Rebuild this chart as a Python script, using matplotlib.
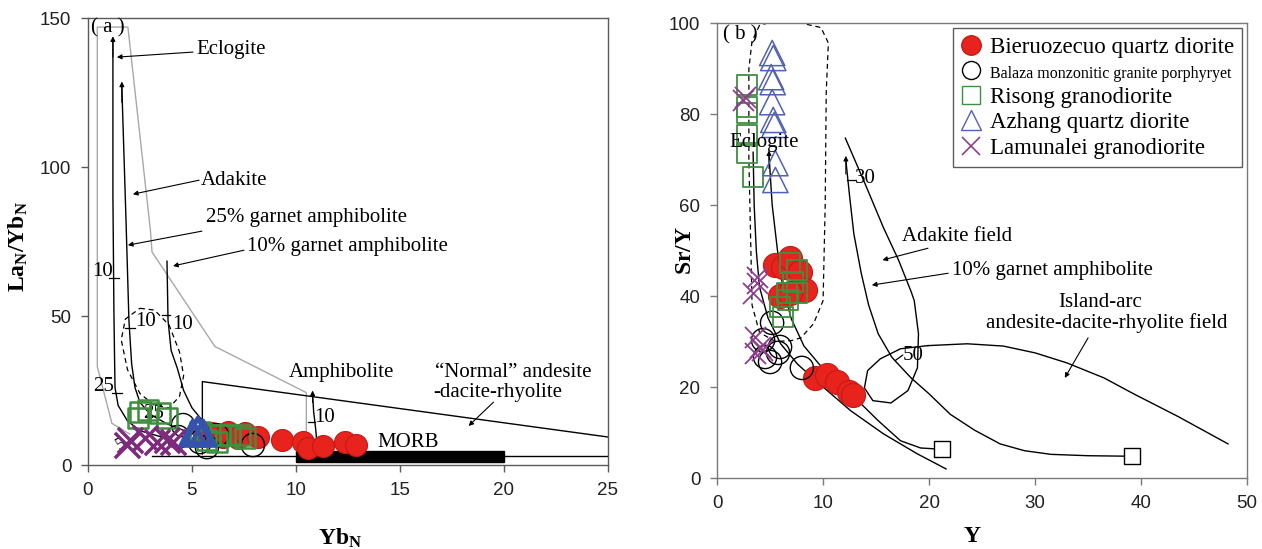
import matplotlib
matplotlib.use('Agg')
import matplotlib.pyplot as plt
from matplotlib.lines import Line2D

plt.rcParams['font.family'] = 'Liberation Serif'
plt.rcParams['mathtext.fontset'] = 'custom'
plt.rcParams['mathtext.rm'] = 'Liberation Serif'
plt.rcParams['mathtext.bf'] = 'Liberation Serif:bold'

# ===== panel (a) : YbN vs LaN/YbN =====
a_red_x = [5.6, 5.95, 6.5, 6.73, 7.2, 7.55, 8.17, 9.33, 10.34, 10.58, 11.3, 12.36, 12.88]
a_red_y = [10.0, 10.7, 9.5, 11.1, 9.2, 10.7, 9.4, 8.4, 7.7, 5.7, 6.4, 7.7, 6.7]
a_blk_x = [4.57, 4.33, 5.38, 5.72, 6.2, 7.93]
a_blk_y = [13.4, 9.4, 7.7, 6.0, 10.0, 6.7]
a_grn_x = [2.5, 2.88, 3.46, 3.8, 2.4, 5.38, 5.87, 6.35, 6.83, 7.3, 7.55, 5.7, 6.2]
a_grn_y = [17.8, 18.5, 17.4, 15.8, 15.8, 11.1, 10.0, 10.0, 10.0, 10.0, 9.1, 8.4, 7.7]
a_blu_x = [5.05, 5.29, 5.53]
a_blu_y = [10.7, 11.7, 10.7]
a_pur_x = [1.87, 2.0, 2.74, 3.3, 3.8, 4.1]
a_pur_y = [6.7, 8.4, 9.1, 7.7, 8.4, 7.7]

# eclogite field outline (grey)
a_ecl_field_x = [2.0, 1.15, 0.45, 0.45, 1.92, 3.0, 3.08, 6.1, 10.5, 10.5]
a_ecl_field_y = [10.4, 14.0, 33.0, 147.0, 147.0, 79.0, 71.5, 39.8, 24.3, 4.7]
# melting curves
a_curve1_x = [1.2, 1.2, 1.25, 1.3, 1.45, 1.9, 2.5, 3.5]
a_curve1_y = [141.9, 90.0, 50.0, 26.0, 20.0, 14.8, 11.5, 9.5]
a_curve2_x = [1.63, 1.83, 1.97, 2.1, 2.26, 2.5, 3.0, 3.8, 5.05]
a_curve2_y = [126.7, 82.0, 48.5, 34.0, 26.0, 21.0, 17.0, 13.8, 10.4]
a_curve3_x = [3.8, 3.85, 4.0, 4.3, 4.6, 5.0, 5.4, 5.7]
a_curve3_y = [68.4, 48.5, 38.4, 32.4, 25.0, 19.2, 15.8, 13.8]
a_amph_x = [10.8, 10.85, 10.95, 11.0]
a_amph_y = [24.0, 18.0, 12.0, 8.0]
a_ellipse_x = [2.5, 3.2, 3.9, 4.4, 4.6, 4.4, 3.9, 3.2, 2.5, 1.9, 1.6, 1.8, 2.5]
a_ellipse_y = [52.6, 52.0, 47.0, 38.0, 30.0, 23.0, 19.2, 20.0, 24.0, 32.0, 42.0, 49.0, 52.6]
a_normal_x = [5.5, 5.5, 25.0]
a_normal_y = [3.7, 28.0, 9.4]
a_base_x = [3.1, 25.0]
a_base_y = [3.0, 3.0]
a_morb = (10.0, 20.0, 1.0, 4.7)  # x0, x1, y0, y1

# ===== panel (b) : Y vs Sr/Y =====
b_red_x = [5.47, 6.2, 6.89, 7.83, 8.3, 5.94, 6.9, 9.25, 10.4, 11.3, 12.4, 12.8]
b_red_y = [46.8, 46.4, 48.4, 45.3, 41.3, 40.0, 40.7, 22.0, 22.6, 21.1, 18.9, 18.2]
b_blk_x = [5.19, 4.34, 5.94, 5.0, 4.53, 8.0, 5.75]
b_blk_y = [34.1, 30.3, 28.8, 25.5, 26.6, 24.2, 27.5]
b_grn_x = [2.83, 2.83, 2.83, 2.83, 2.83, 3.4, 6.89, 7.55, 7.17, 6.6, 7.55, 5.94, 6.23, 6.7]
b_grn_y = [86.4, 81.5, 80.2, 75.4, 71.4, 66.2, 47.3, 45.7, 43.1, 40.7, 40.7, 37.6, 35.4, 39.1]
b_blu_x = [5.2, 5.3, 5.1, 5.25, 5.2, 5.3, 5.4, 5.5, 5.5]
b_blu_y = [93.4, 92.3, 88.1, 87.0, 82.6, 78.7, 77.6, 69.2, 65.5]
b_pur_x = [2.45, 2.64, 3.77, 3.77, 3.4, 3.58, 4.06, 3.58, 4.25]
b_pur_y = [83.1, 83.7, 42.9, 44.2, 40.7, 31.0, 28.8, 27.5, 28.1]

b_ecl_x = [4.0, 3.3, 3.0, 3.0, 3.2, 3.3, 4.0, 5.5, 7.0, 7.9, 9.1, 10.0, 10.2, 10.3, 10.5, 9.8, 7.9, 4.8, 4.0]
b_ecl_y = [99.5, 96.0, 90.0, 70.0, 49.0, 38.0, 32.0, 30.0, 30.2, 30.8, 33.9, 39.0, 60.0, 85.0, 95.6, 99.0, 100.0, 100.0, 99.5]
b_curveA_x = [3.4, 3.5, 3.7, 4.0, 4.8, 6.0, 7.6, 10.1, 12.6, 15.7, 18.9, 21.6]
b_curveA_y = [71.6, 60.0, 50.0, 42.0, 35.2, 29.5, 25.0, 19.8, 14.8, 9.7, 5.3, 2.0]
b_curveB_x = [4.9, 5.2, 5.7, 6.2, 7.0, 8.2, 10.0, 12.0, 13.5, 15.2, 17.3, 19.2, 20.6]
b_curveB_y = [71.0, 60.0, 50.0, 42.0, 35.0, 29.0, 24.0, 20.0, 16.5, 12.6, 8.2, 6.6, 6.4]
b_curveC_x = [12.15, 12.5, 12.9, 13.6, 14.3, 15.2, 16.5, 18.3, 20.0, 22.0, 24.3, 26.7, 29.0, 31.5, 35.0, 38.5]
b_curveC_y = [69.8, 62.0, 53.7, 45.0, 38.0, 31.7, 26.5, 22.0, 18.5, 14.0, 10.5, 7.5, 6.0, 5.2, 4.9, 4.8]
b_adakite_x = [12.1, 13.9, 15.7, 17.1, 18.3, 18.6, 19.0, 18.9, 18.0, 16.4, 14.7, 13.9, 14.2, 15.4, 17.3, 19.9]
b_adakite_y = [74.7, 65.0, 55.0, 48.0, 41.0, 39.0, 31.7, 24.2, 19.2, 16.5, 17.0, 19.8, 23.6, 26.2, 28.4, 29.1]
b_arc_x = [19.9, 23.6, 27.0, 30.0, 33.0, 36.5, 39.3, 43.5, 48.2]
b_arc_y = [29.1, 29.5, 29.0, 27.5, 25.3, 22.0, 18.5, 13.5, 7.5]
b_end_x = [21.2, 39.1]
b_end_y = [6.4, 4.8]

RED, REDE = '#e8231d', '#c41a14'
GRN = '#3f8f3f'
BLU = '#5161b3'
PUR = '#8e3f8e'

fig = plt.figure(figsize=(12.62, 5.49), dpi=100)
ax1 = fig.add_axes([0.0697, 0.153, 0.412, 0.814])
ax2 = fig.add_axes([0.5682, 0.1293, 0.420, 0.8288])


def style(ax, col):
    for s in ax.spines.values():
        s.set_color(col)
        s.set_linewidth(1.0)
    ax.tick_params(direction='out', length=5, width=1, color=col, labelsize=13.5, pad=7)
    for t in ax.get_xticklabels() + ax.get_yticklabels():
        t.set_fontfamily('Liberation Sans')
        t.set_color('#222222')


def arrow(ax, tip, tail):
    ax.annotate('', xy=tip, xytext=tail,
                arrowprops=dict(arrowstyle='-|>', lw=0.8, color='k', mutation_scale=7, shrinkA=0, shrinkB=0))


# ---------- panel (a) ----------
ax = ax1
ax.plot(a_ecl_field_x, a_ecl_field_y, color='#a8a8a8', lw=1.0, zorder=1)
ax.plot(a_curve1_x, a_curve1_y, color='k', lw=1.0, zorder=2)
ax.plot(a_curve2_x, a_curve2_y, color='k', lw=1.0, zorder=2)
ax.plot(a_curve3_x, a_curve3_y, color='k', lw=1.0, zorder=2)
ax.plot(a_amph_x, a_amph_y, color='k', lw=1.0, zorder=2)
ax.plot(a_ellipse_x, a_ellipse_y, color='k', lw=0.9, ls=(0, (4, 3)), zorder=2)
ax.plot(a_normal_x, a_normal_y, color='k', lw=1.0, zorder=2)
ax.plot(a_base_x, a_base_y, color='k', lw=1.0, zorder=2)
x0, x1, y0, y1 = a_morb
ax.fill([x0, x1, x1, x0], [y0, y0, y1, y1], color='k', zorder=2)
arrow(ax, (a_curve1_x[0], a_curve1_y[0] + 2), (a_curve1_x[0], a_curve1_y[0] - 5))
arrow(ax, (a_curve2_x[0], a_curve2_y[0] + 2), (a_curve2_x[0], a_curve2_y[0] - 5))
arrow(ax, (a_amph_x[0], a_amph_y[0] + 1), (a_amph_x[0], a_amph_y[0] - 3))

ax.scatter(a_red_x, a_red_y, s=250, c=RED, edgecolors=REDE, linewidths=0.8, zorder=5)
ax.scatter(a_blk_x, a_blk_y, s=280, facecolors='none', edgecolors='k', linewidths=1.0, zorder=6)
ax.scatter(a_grn_x, a_grn_y, s=200, marker='s', facecolors='none', edgecolors=GRN, linewidths=1.8, zorder=7)
ax.scatter(a_blu_x, a_blu_y, s=330, marker='^', facecolors='none', edgecolors='#3552ad', linewidths=3.0, zorder=8)
ax.scatter(a_pur_x, a_pur_y, s=330, marker='x', c='#7d2c7d', linewidths=2.5, zorder=9)

fs = 15
ax.text(0.96, 146.6, '( a )', fontsize=fs, ha='center', va='center')
ax.text(5.19, 139.3, 'Eclogite', fontsize=fs, va='center')
arrow(ax, (1.39, 136.9), (5.05, 138.6))
ax.text(5.43, 95.6, 'Adakite', fontsize=fs, va='center')
arrow(ax, (2.16, 90.9), (5.34, 95.6))
ax.text(5.67, 83.2, '25% garnet amphibolite', fontsize=fs, va='center')
arrow(ax, (1.92, 73.8), (5.48, 78.5))
ax.text(7.64, 73.2, '10% garnet amphibolite', fontsize=fs, va='center')
arrow(ax, (4.09, 66.8), (7.5, 72.1))
ax.text(12.2, 30.9, 'Amphibolite', fontsize=fs, ha='center', va='center')
ax.text(16.7, 31.2, '\u201cNormal\u201d andesite', fontsize=fs, va='center')
ax.text(16.6, 24.5, '-dacite-rhyolite', fontsize=fs, va='center')
arrow(ax, (18.3, 13.1), (19.5, 21.1))
ax.text(13.9, 7.6, 'MORB', fontsize=fs, va='center')

# small ticks with labels on the melting curves
for (tx0, tx1, ty), (lx, ly, lab, ha) in [
        ((1.0, 1.5, 62.8), (1.2, 64.8, '10', 'right')),
        ((1.15, 1.65, 24.2), (1.25, 26.5, '25', 'right')),
        ((1.78, 2.26, 46.0), (2.26, 48.0, '10', 'left')),
        ((3.56, 3.94, 50.3), (4.04, 47.3, '10', 'left')),
        ((2.16, 2.64, 19.1), (2.64, 17.4, '25', 'left')),
        ((10.58, 10.9, 14.4), (10.9, 15.8, '10', 'left'))]:
    ax.plot([tx0, tx1], [ty, ty], color='k', lw=0.9, zorder=3)
    ax.text(lx, ly, lab, fontsize=fs, ha=ha, va='center', zorder=3)
ax.text(1.63, 6.7, '5', fontsize=13, ha='center', va='center', rotation=30)

ax.set_xlim(0, 25)
ax.set_ylim(0, 150)
ax.set_xticks([0, 5, 10, 15, 20, 25])
ax.set_yticks([0, 50, 100, 150])
style(ax, '#5a5a5a')
ax.set_xlabel(r'$\mathbf{Yb_N}$', fontsize=17)
ax.xaxis.set_label_coords(0.485, -0.138)
ax.set_ylabel(r'$\mathbf{La_N/Yb_N}$', fontsize=17)
ax.yaxis.set_label_coords(-0.112, 0.49)

# ---------- panel (b) ----------
ax = ax2
ax.plot(b_ecl_x, b_ecl_y, color='k', lw=0.9, ls=(0, (4, 3)), zorder=2)
for cx, cy in [(b_curveA_x, b_curveA_y), (b_curveB_x, b_curveB_y), (b_curveC_x, b_curveC_y),
               (b_adakite_x, b_adakite_y), (b_arc_x, b_arc_y)]:
    ax.plot(cx, cy, color='k', lw=1.0, zorder=2)
ax.plot([b_curveB_x[-1], b_end_x[0]], [b_curveB_y[-1], b_end_y[0]], color='k', lw=1.0, zorder=2)
ax.plot([b_curveC_x[-1], b_end_x[1]], [b_curveC_y[-1], b_end_y[1]], color='k', lw=1.0, zorder=2)
ax.scatter(b_end_x, b_end_y, s=130, marker='s', facecolors='white', edgecolors='k', linewidths=1.0, zorder=3)
arrow(ax, (b_curveB_x[0], b_curveB_y[0] + 1), (b_curveB_x[0], b_curveB_y[0] - 3))
arrow(ax, (b_curveC_x[0], b_curveC_y[0] + 1), (b_curveC_x[0], b_curveC_y[0] - 3))

ax.scatter(b_red_x, b_red_y, s=300, c=RED, edgecolors=REDE, linewidths=0.8, zorder=5)
ax.scatter(b_blk_x, b_blk_y, s=280, facecolors='none', edgecolors='k', linewidths=1.0, zorder=6)
ax.scatter(b_grn_x, b_grn_y, s=210, marker='s', facecolors='none', edgecolors=GRN, linewidths=1.3, zorder=7)
ax.scatter(b_blu_x, b_blu_y, s=330, marker='^', facecolors='none', edgecolors=BLU, linewidths=1.1, zorder=8)
ax.scatter(b_pur_x, b_pur_y, s=230, marker='x', c=PUR, linewidths=1.3, zorder=9)

ax.text(2.17, 97.4, '( b )', fontsize=fs, ha='center', va='center')
ax.text(4.43, 73.8, 'Eclogite', fontsize=fs, ha='center', va='center', zorder=10)
ax.plot([12.26, 13.0], [65.5, 65.5], color='k', lw=0.9)
ax.text(13.0, 65.9, '30', fontsize=fs, va='center')
ax.plot([16.8, 17.5], [25.8, 27.0], color='k', lw=0.9)
ax.text(17.5, 27.0, '50', fontsize=fs, va='center')
ax.text(17.45, 53.0, 'Adakite field', fontsize=fs, va='center')
arrow(ax, (15.6, 47.9), (19.9, 50.5))
ax.text(22.2, 45.7, '10% garnet amphibolite', fontsize=fs, va='center')
arrow(ax, (14.6, 42.4), (21.8, 45.0))
ax.text(36.1, 38.5, 'Island-arc', fontsize=fs, ha='center', va='center')
ax.text(36.8, 34.0, 'andesite-dacite-rhyolite field', fontsize=fs, ha='center', va='center')
arrow(ax, (32.8, 22.0), (35.0, 30.8))

handles = [
    Line2D([], [], ls='none', marker='o', ms=14, mfc=RED, mec=REDE),
    Line2D([], [], ls='none', marker='o', ms=13, mfc='none', mec='k'),
    Line2D([], [], ls='none', marker='s', ms=13, mfc='none', mec=GRN),
    Line2D([], [], ls='none', marker='^', ms=14, mfc='none', mec=BLU),
    Line2D([], [], ls='none', marker='x', ms=13, mec=PUR, mew=1.2),
]
labels = ['Bieruozecuo quartz diorite', 'Balaza monzonitic granite porphyryet',
          'Risong granodiorite', 'Azhang quartz diorite', 'Lamunalei granodiorite']
leg = ax.legend(handles, labels, loc='upper right', bbox_to_anchor=(0.99, 0.988),
                fontsize=16.5, frameon=True, fancybox=False, edgecolor='#333333',
                handlelength=0.9, handletextpad=0.35, labelspacing=0.2,
                borderpad=0.35, borderaxespad=0)
leg.get_frame().set_linewidth(1.0)
leg.get_texts()[1].set_fontsize(11.5)

ax.set_xlim(0, 50)
ax.set_ylim(0, 100)
ax.set_xticks([0, 10, 20, 30, 40, 50])
ax.set_yticks([0, 20, 40, 60, 80, 100])
style(ax, '#7a7a7a')
ax.set_xlabel(r'$\mathbf{Y}$', fontsize=17)
ax.xaxis.set_label_coords(0.482, -0.105)
ax.set_ylabel(r'$\mathbf{Sr/Y}$', fontsize=17)
ax.yaxis.set_label_coords(-0.04, 0.5)

fig.savefig('out.png', dpi=100)
